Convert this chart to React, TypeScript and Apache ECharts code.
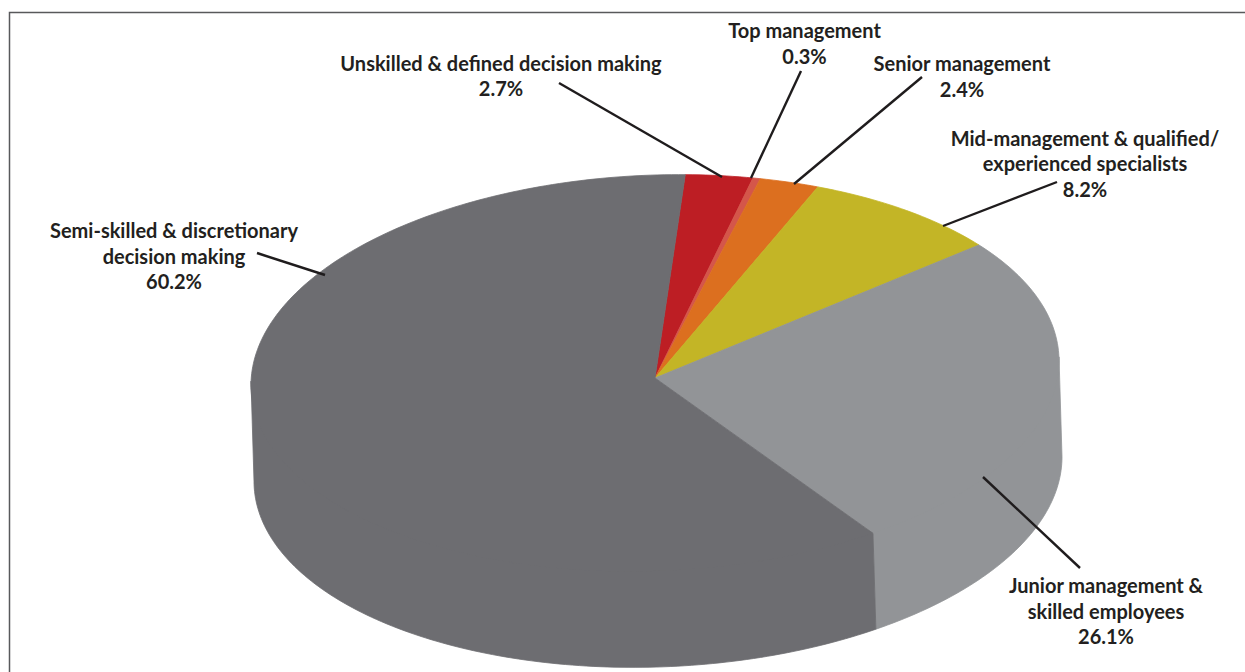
import React, { useEffect, useRef } from "react";
import * as echarts from "echarts";

// Workforce shares, clockwise from the top of the pie
const categories = [
  "Unskilled & defined decision making",
  "Top management",
  "Senior management",
  "Mid-management & qualified/\nexperienced specialists",
  "Junior management &\nskilled employees",
  "Semi-skilled & discretionary\ndecision making",
];
const shares = [2.7, 0.3, 2.4, 8.2, 26.1, 60.2];
const sliceColors = ["#bd1e24", "#d4564a", "#dc6f1f", "#c3b526", "#929497", "#6d6d71"];

// Label anchors (centre x, centre y) and their leader lines (x1, y1, x2, y2)
const labelAnchors = [
  [501, 75.5], [804.5, 43], [962, 76], [1085, 163], [1106, 610.5], [174, 255.5],
];
const leaders = [
  [559, 83, 722, 177],
  [801, 71, 751, 178],
  [922, 77, 794, 184],
  [1057, 182, 943, 226],
  [983, 477, 1080, 568],
  [257, 253, 325, 275],
];

// Projection of the tilted disc
const apex = { x: 655, y: 378 };
const disc = { cx: 655, cy: 373, rx: 404, ry: 198, tilt: -0.03, depth: 96, skew: 3, startDeg: 4.3 };

const rimPoint = (deg: number, lower = false): number[] => {
  const t = (deg * Math.PI) / 180;
  const dx = disc.rx * Math.sin(t);
  const y = disc.cy - disc.ry * Math.cos(t) + disc.tilt * dx;
  return lower ? [disc.cx + dx + disc.skew, y + disc.depth] : [disc.cx + dx, y];
};

const arc = (from: number, to: number, lower = false): number[][] => {
  const n = Math.max(2, Math.ceil(Math.abs(to - from)));
  const pts: number[][] = [];
  for (let i = 0; i <= n; i++) pts.push(rimPoint(from + ((to - from) * i) / n, lower));
  return pts;
};

// The rounded shares add up to 99.9, so angles are taken against their total
const total = shares.reduce((sum, s) => sum + s, 0);
const toDeg = (share: number) => (share / total) * 360;

const spans: number[][] = [];
shares.reduce((acc, s) => {
  spans.push([acc, s]);
  return acc + s;
}, 0);

const bounds = (p: number[]) => {
  const a = disc.startDeg + toDeg(p[0]);
  return [a, a + toDeg(p[1])];
};

export default function App() {
  const ref = useRef<HTMLDivElement>(null);

  useEffect(() => {
    document.body.style.margin = "0";
    const chart = echarts.init(ref.current!, undefined, { renderer: "svg" });

    // Side wall: only the front half of the rim shows; its upper edge runs
    // a little under the disc so no seam appears along the rim.
    const renderWall = (params: any, api: any) => {
      const [a, b] = bounds([api.value(0), api.value(1)]);
      const from = Math.max(a, 90);
      const to = Math.min(b, 270);
      if (to <= from) return { type: "group", children: [] };
      const fill = sliceColors[params.dataIndex];
      const upper = arc(from, to).map((p) => [p[0], p[1] - 4]);
      return {
        type: "polygon",
        shape: { points: [...upper, ...arc(to, from, true)] },
        style: { fill, stroke: fill, lineWidth: 0.8 },
      };
    };

    const renderTop = (params: any, api: any) => {
      const [a, b] = bounds([api.value(0), api.value(1)]);
      const fill = sliceColors[params.dataIndex];
      return {
        type: "polygon",
        shape: { points: [[apex.x, apex.y], ...arc(a, b)] },
        style: { fill, stroke: fill, lineWidth: 0.8 },
      };
    };

    chart.setOption({
      animation: false,
      backgroundColor: "#ffffff",
      series: [
        { type: "custom", coordinateSystem: "none", renderItem: renderWall, data: spans, z: 1, silent: true },
        { type: "custom", coordinateSystem: "none", renderItem: renderTop, data: spans, z: 2, silent: true },
      ],
      graphic: [
        {
          type: "polyline",
          z: 5,
          shape: { points: [[9.5, 672], [9.5, 12.5], [1245, 12.5]] },
          style: { fill: "none", stroke: "#58595b", lineWidth: 1.5 },
        },
        ...leaders.map((l) => ({
          type: "line",
          z: 6,
          shape: { x1: l[0], y1: l[1], x2: l[2], y2: l[3] },
          style: { stroke: "#1f1c1d", lineWidth: 2.4 },
        })),
        ...categories.map((name, i) => ({
          type: "text",
          z: 7,
          x: labelAnchors[i][0],
          y: labelAnchors[i][1],
          style: {
            text: `${name}\n${shares[i].toFixed(1)}%`,
            font: "bold 20px Lato",
            lineHeight: 25.5,
            align: "center",
            verticalAlign: "middle",
            fill: "#231f20",
          },
        })),
      ],
    });

    return () => chart.dispose();
  }, []);

  return <div ref={ref} style={{ position: "fixed", left: 0, top: 0, width: 1245, height: 672 }} />;
}
